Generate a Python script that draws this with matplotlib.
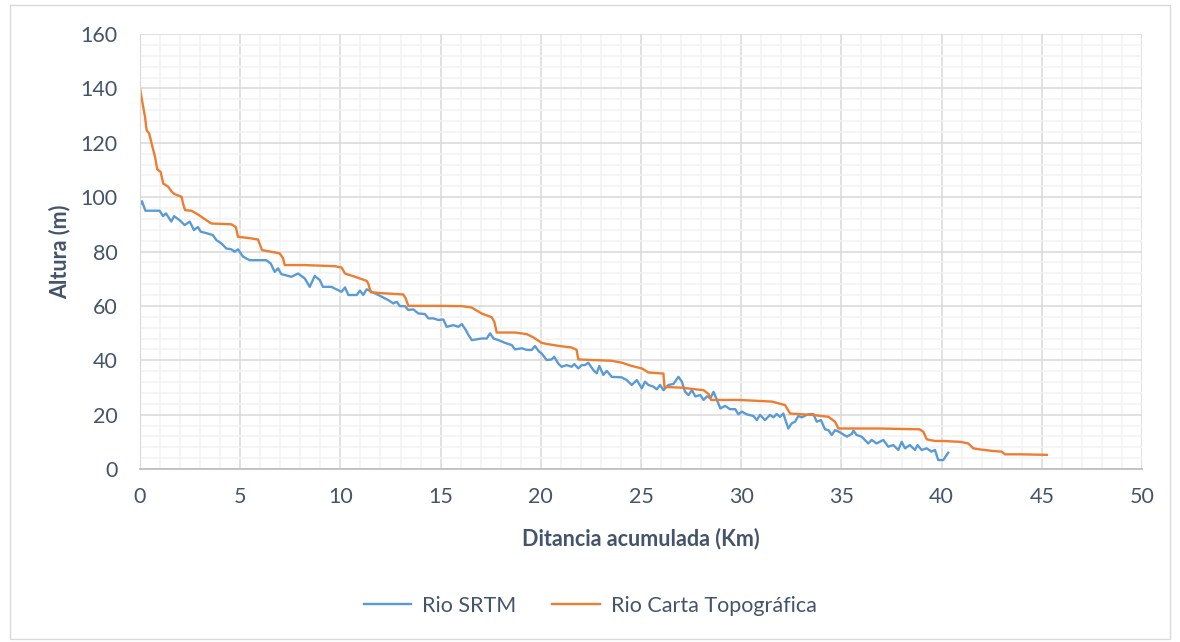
# Perfil longitudinal del rio: SRTM vs carta topografica
import matplotlib.pyplot as plt
from matplotlib.patches import Rectangle
from matplotlib.ticker import MultipleLocator

plt.rcParams['font.family'] = ['Lato', 'DejaVu Sans']

# Rio SRTM (km, m)
srtm_km = [0, 0.1, 0.27, 0.98, 1.15, 1.3, 1.56, 1.7, 1.98, 2.23, 2.48, 2.69, 2.89, 3.03,
           3.39, 3.64, 3.81, 4.06, 4.31, 4.56, 4.72, 4.89, 5.14, 5.47, 6.3, 6.52, 6.72,
           6.89, 7.05, 7.55, 7.89, 8.22, 8.47, 8.72, 8.97, 9.13, 9.55, 9.88, 10.06, 10.23,
           10.4, 10.81, 10.98, 11.14, 11.31, 11.56, 11.73, 12.06, 12.39, 12.64, 12.81,
           12.97, 13.22, 13.39, 13.64, 13.89, 14.22, 14.39, 14.64, 14.89, 15.14, 15.3,
           15.64, 15.89, 16.06, 16.26, 16.39, 16.56, 17.05, 17.3, 17.47, 17.64, 17.89,
           18.21, 18.55, 18.71, 19.05, 19.3, 19.55, 19.71, 19.91, 20.04, 20.29, 20.54,
           20.67, 20.87, 21.04, 21.29, 21.54, 21.67, 21.87, 22.04, 22.2, 22.37, 22.62,
           22.79, 22.92, 23.12, 23.29, 23.54, 24.04, 24.29, 24.54, 24.79, 25.04, 25.2,
           25.37, 25.62, 25.79, 25.95, 26.12, 26.37, 26.62, 26.87, 27.04, 27.2, 27.37,
           27.54, 27.71, 27.96, 28.12, 28.29, 28.46, 28.62, 28.79, 28.96, 29.2, 29.45,
           29.7, 29.86, 30.03, 30.28, 30.61, 30.78, 30.94, 31.19, 31.44, 31.61, 31.77,
           31.94, 32.1, 32.35, 32.52, 32.69, 32.85, 33.02, 33.27, 33.43, 33.6, 33.77,
           33.98, 34.18, 34.35, 34.52, 34.68, 34.88, 35.27, 35.52, 35.6, 35.76, 36.01,
           36.34, 36.51, 36.76, 37.09, 37.34, 37.59, 37.84, 38.01, 38.17, 38.42, 38.67,
           38.8, 39.0, 39.25, 39.5, 39.67, 39.83, 40.08, 40.33]
srtm_m = [97, 98.5, 95, 95, 93, 94, 91, 93, 91.5, 89.7, 91, 87.9, 89, 87.3,
          86.6, 86, 84.2, 83, 81.1, 80.8, 79.9, 80.8, 78.1, 76.8, 76.8, 75.6, 72.5,
          73.8, 71.7, 70.7, 71.9, 70.1, 67, 71, 69.5, 67, 67, 65.8, 65.2, 66.8,
          64, 64, 65.6, 64, 66.1, 65.2, 64.6, 63.4, 62.1, 60.9, 61.5,
          59.9, 59.9, 58.5, 58.7, 57.2, 57, 55.4, 55.4, 54.8, 55, 52.3,
          52.9, 52.3, 53.3, 51.1, 49.3, 47.4, 48, 48, 49.9, 48, 47.4,
          46.4, 45.6, 44, 44.4, 43.8, 43.8, 45.2, 43.2, 42.5, 40.1, 40.3,
          41.3, 38.8, 37.6, 38.2, 37.6, 38.6, 37, 38.2, 38.2, 39.1, 36.4,
          35.2, 37.9, 34.6, 36.1, 33.9, 33.7, 32.7, 30.9, 32.7, 29.7, 32.1,
          30.9, 30.3, 29.3, 30.9, 29, 30.9, 31.3, 33.9, 32.1, 28.4, 27.2,
          29, 26.7, 27.2, 25.4, 26.7, 26, 28.4, 25.4, 22.3, 23.2, 22,
          22, 20.1, 21.1, 20.1, 19.5, 18, 19.9, 18, 19.9, 19, 20.2,
          19.2, 20.4, 14.9, 16.8, 17.4, 19.5, 19, 19.9, 20.2, 20.2, 17.4,
          18, 14.6, 14.3, 12.5, 14.3, 13.7, 11.9, 12.9, 14.1, 12.5, 11.9,
          9.4, 10.7, 9.4, 10.7, 8.2, 8.8, 7, 10, 7.6, 8.8, 7,
          8.8, 7, 7.6, 6.4, 7, 3.3, 3.3, 6]

# Rio Carta Topografica (km, m)
carta_km = [0, 0.13, 0.25, 0.33, 0.46, 0.58, 0.75, 0.86, 1.03, 1.16, 1.41, 1.58, 1.73,
            2.08, 2.15, 2.25, 2.56, 2.81, 3.06, 3.31, 3.56, 4.56, 4.78, 4.89, 5.39, 5.89,
            6.09, 6.55, 6.97, 7.14, 7.22, 8.22, 9.72, 10.06, 10.23, 10.73, 11.31, 11.39,
            11.52, 12.22, 13.14, 13.26, 13.39, 15.05, 16.05, 16.55, 17.05, 17.55, 17.68,
            17.8, 18.71, 19.3, 19.63, 20.04, 20.29, 20.96, 21.54, 21.79, 21.87, 23.54,
            24.04, 24.54, 25.04, 25.37, 26.12, 26.17, 27.04, 27.62, 28.12, 28.37, 28.5,
            29.9, 31.53, 32.19, 32.44, 33.52, 34.35, 34.68, 34.85, 36.85, 38.9, 39.09,
            39.26, 39.67, 40.08, 40.92, 41.33, 41.58, 41.92, 42.58, 43.0, 43.16, 43.91,
            45.25]
carta_m = [140, 134.4, 129.5, 124.6, 123.4, 119.7, 114.8, 110.2, 109.3, 105, 103.8, 102,
           101.1, 100.1, 97.5, 95.2, 95, 94, 92.8, 91.5, 90.3, 90, 89, 85.4, 85, 84.4,
           80.5, 79.9, 79.3, 77.5, 75, 75, 74.6, 74.1, 71.9, 70.7, 69.2, 68.2,
           65, 64.6, 64.2, 62.7, 60, 60, 59.9, 59.4, 57.2, 55.8, 54.2,
           50.2, 50.2, 49.6, 48.4, 46.4, 46, 45.2, 44.7, 43.8, 40.3, 39.8,
           39.1, 37.9, 37, 35.5, 35.1, 30.2, 29.9, 29.4, 29, 27.6, 25.4,
           25.4, 24.8, 23.5, 20.4, 19.9, 19.2, 17.4, 14.9, 14.9, 14.6, 13.7,
           10.9, 10.3, 10.3, 10, 9.4, 7.6, 7.2, 6.6, 6.4, 5.4, 5.4,
           5.2]

txt_color = '#44546A'

fig = plt.figure(figsize=(11.8, 6.42), dpi=100)
ax = fig.add_axes([140 / 1180, 1 - 469 / 642, 1002 / 1180, 435 / 642])

# marco exterior del grafico
fig.patches.append(Rectangle((10 / 1180, 1 - 639 / 642), 1160 / 1180, 634 / 642,
                             transform=fig.transFigure, fill=False,
                             edgecolor='#D9D9D9', linewidth=1))

ax.plot(srtm_km, srtm_m, color='#5B9BD5', linewidth=1.7, label='Rio SRTM')
ax.plot(carta_km, carta_m, color='#ED7D31', linewidth=1.7, label='Rio Carta Topográfica')

ax.set_xlim(0, 50)
ax.set_ylim(0, 160)
ax.xaxis.set_major_locator(MultipleLocator(5))
ax.xaxis.set_minor_locator(MultipleLocator(1))
ax.yaxis.set_major_locator(MultipleLocator(20))
ax.yaxis.set_minor_locator(MultipleLocator(4))
ax.grid(which='major', color='#D9D9D9', linewidth=1.1)
ax.grid(which='minor', color='#F2F2F2', linewidth=1.1)
ax.set_axisbelow(True)

for side in ['top', 'right']:
    ax.spines[side].set_visible(False)
ax.spines['left'].set_color('#D9D9D9')
ax.spines['bottom'].set_color('#BFBFBF')
ax.spines['bottom'].set_linewidth(1.3)

ax.tick_params(which='both', length=0, labelsize=15.5, labelcolor=txt_color)
ax.tick_params(axis='y', pad=16)
ax.tick_params(axis='x', pad=13)

ax.set_xlabel('Ditancia acumulada (Km)', fontsize=15.5, fontweight='bold',
              color=txt_color)
ax.set_ylabel('Altura (m)', fontsize=15.5, fontweight='bold', color=txt_color)
# posiciones fijas de los titulos de eje (centro del texto)
ax.xaxis.set_label_coords(0.5, -0.159)
ax.yaxis.set_label_coords(-0.08, 0.5)
ax.xaxis.label.set_va('center')
ax.yaxis.label.set_va('center')

fig.legend(loc='center', bbox_to_anchor=(0.5, 1 - 606 / 642), ncol=2, frameon=False,
           fontsize=15.5, labelcolor=txt_color, handlelength=2.2, handletextpad=0.5,
           columnspacing=1.7)

fig.savefig('out.png', dpi=100)
